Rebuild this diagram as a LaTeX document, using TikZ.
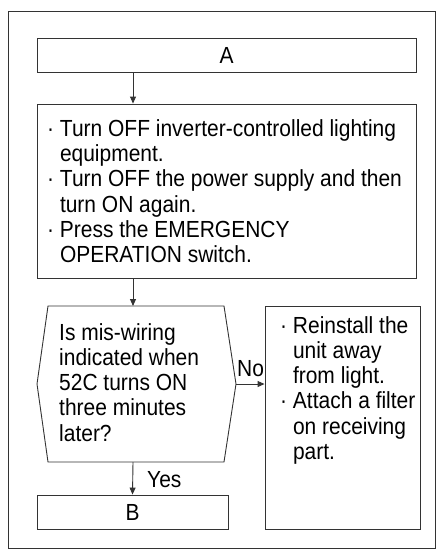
\documentclass[tikz,border=0pt]{standalone}
\usepackage{fontspec}
\setmainfont[FakeStretch=0.9]{Liberation Sans}
\usetikzlibrary{arrows.meta,calc}
\begin{document}
\begin{tikzpicture}[x=1pt,y=-1pt,
  line/.style={draw=black!80, line width=0.9pt},
  arr/.style={line, -{Triangle[length=7pt,width=6pt]}},
  boxnode/.style={line, rectangle, inner sep=0pt},
  txt/.style={font=\fontsize{23.3}{25.3}\selectfont, align=left, inner sep=0pt, anchor=north west},
  lbl/.style={font=\fontsize{23.3}{25.3}\selectfont, inner sep=0pt}
]
\useasboundingbox (0,0) rectangle (438,552);
\draw[line] (8,11) rectangle (435,548);
% box A
\node[boxnode, minimum width=379pt, minimum height=34pt, font=\fontsize{23.3}{25.3}\selectfont] (A) at (226.5,55) {A};
% box S1
\node[boxnode, minimum width=379pt, minimum height=174pt] (S1) at (226.5,191) {};
\node[txt] (S1t) at (47,119.3) {· Turn OFF inverter-controlled lighting\\
\hphantom{· }equipment.\\
· Turn OFF the power supply and then\\
\hphantom{· }turn ON again.\\
· Press the EMERGENCY\\
\hphantom{· }OPERATION switch.};
% decision
\coordinate (Dt) at (133,306);
\coordinate (Db) at (133,462);
\coordinate (Dr) at (236,384);
\draw[line] (48,306) -- (224,306) -- (Dr) -- (224,462) -- (48,462) -- (37,384) -- cycle;
\node[txt] (Dtx) at (59,323) {Is mis-wiring\\indicated when\\52C turns ON\\three minutes\\later?};
% right box
\node[boxnode, minimum width=155pt, minimum height=223pt] (R) at (342.5,417.5) {};
\node[txt] (Rt) at (280,316) {· Reinstall the\\
\hphantom{· }unit away\\
\hphantom{· }from light.\\
· Attach a filter\\
\hphantom{· }on receiving\\
\hphantom{· }part.};
% box B
\node[boxnode, minimum width=191pt, minimum height=34pt, font=\fontsize{23.3}{25.3}\selectfont] (B) at (132.5,512) {B};
% connectors
\draw[arr] (A.south -| Dt) -- (S1.north -| Dt);
\draw[arr] (S1.south -| Dt) -- (Dt);
\draw[arr] (Dr) -- (R.west |- Dr);
\draw[arr] (Db) -- (B.north);
% labels
\node[lbl, anchor=base west] (no) at (237,376) {No};
\node[lbl, anchor=base west] (yes) at (147,487) {Yes};
\end{tikzpicture}
\end{document}
